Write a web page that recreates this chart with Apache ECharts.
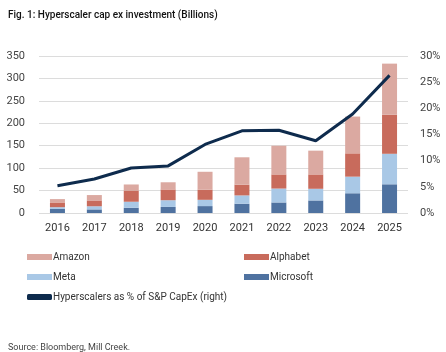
<!DOCTYPE html>
<html>
<head>
<meta charset="utf-8">
<script src="https://cdn.jsdelivr.net/npm/echarts@6/dist/echarts.min.js"></script>
<style>
  html, body { margin: 0; padding: 0; background: #fff; }
  #chart { width: 446px; height: 352px; }
</style>
</head>
<body>
<div id="chart"></div>
<script>
const years = ["2016", "2017", "2018", "2019", "2020", "2021", "2022", "2023", "2024", "2025"];
const microsoft = [9, 8, 11.6, 13.5, 15.4, 20.7, 23.5, 28, 44, 64];
const meta = [4, 7, 13.5, 15, 14, 18.5, 31, 26, 37, 68];
const alphabet = [10.5, 13, 25, 24, 22.5, 24, 31.5, 32, 52, 87];
const amazon = [7.5, 12, 13.5, 16, 40, 61, 64, 53, 82, 114];
const pctOfSP = [5.2, 6.5, 8.6, 9.0, 13.1, 15.7, 15.8, 13.8, 18.9, 26.3];

const font = "Roboto, 'Noto Sans', sans-serif";
const chart = echarts.init(document.getElementById("chart"));

// one legend block per entry so the two-column layout sits where it should
function legendAt(name, left, top, icon) {
  return {
    data: [name],
    left: left,
    top: top,
    itemWidth: 25,
    itemHeight: 6,
    itemGap: 2,
    icon: icon,
    textStyle: { fontFamily: font, fontSize: 10, color: "#333", padding: [0, 0, 0, -4] },
  };
}

chart.setOption({
  animation: false,
  title: [
    {
      text: "Fig. 1: Hyperscaler cap ex investment (Billions)",
      left: 3,
      top: 5,
      textStyle: { fontFamily: font, fontSize: 10, fontWeight: 500, color: "#111" },
    },
    {
      text: "Source: Bloomberg, Mill Creek.",
      left: 3,
      top: 338,
      textStyle: { fontFamily: font, fontSize: 9, fontWeight: "normal", color: "#444" },
    },
  ],
  legend: [
    legendAt("Amazon", 22, 247, "rect"),
    legendAt("Alphabet", 239, 247, "rect"),
    legendAt("Meta", 22, 267, "rect"),
    legendAt("Microsoft", 239, 267, "rect"),
    legendAt("Hyperscalers as % of S&P CapEx (right)", 22, 287, "roundRect"),
  ],
  grid: { left: 39, right: 38, top: 56, bottom: 139 },
  xAxis: {
    type: "category",
    data: years,
    axisLine: { show: false },
    axisTick: { show: false },
    axisLabel: { fontFamily: font, fontSize: 11, color: "#333", margin: 10 },
  },
  yAxis: [
    {
      type: "value",
      min: 0,
      max: 350,
      interval: 50,
      axisLabel: { fontFamily: font, fontSize: 11, color: "#444", margin: 14 },
      splitLine: { lineStyle: { color: "#dcdcdc", width: 1 } },
    },
    {
      type: "value",
      min: 0,
      max: 30,
      interval: 5,
      position: "right",
      axisLabel: { fontFamily: font, fontSize: 11, color: "#444", formatter: "{value}%", margin: 12 },
      splitLine: { show: false },
    },
  ],
  series: [
    { name: "Microsoft", type: "bar", stack: "capex", barWidth: 15, data: microsoft, itemStyle: { color: "#4f72a0" } },
    { name: "Meta", type: "bar", stack: "capex", data: meta, itemStyle: { color: "#a9c8e6" } },
    { name: "Alphabet", type: "bar", stack: "capex", data: alphabet, itemStyle: { color: "#c86b5c" } },
    { name: "Amazon", type: "bar", stack: "capex", data: amazon, itemStyle: { color: "#dba9a1" } },
    {
      name: "Hyperscalers as % of S&P CapEx (right)",
      type: "line",
      yAxisIndex: 1,
      data: pctOfSP,
      symbol: "none",
      lineStyle: { color: "#0e2b4d", width: 3 },
      itemStyle: { color: "#0e2b4d" },
    },
  ],
});
</script>
</body>
</html>
